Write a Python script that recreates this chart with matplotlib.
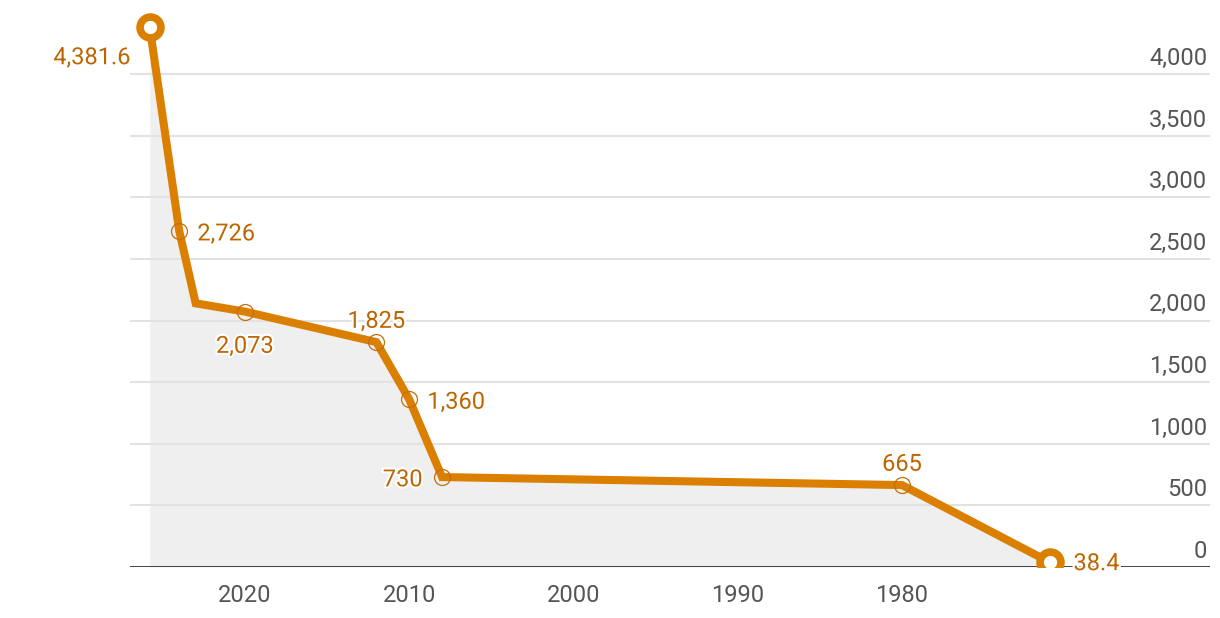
import matplotlib
matplotlib.use("Agg")
from matplotlib import pyplot as plt
import matplotlib.patheffects as pe
import matplotlib.transforms as mtransforms

plt.rcParams['font.family'] = ['Roboto', 'DejaVu Sans']

years = [2025.8, 2024, 2023, 2020, 2012, 2010, 2008, 1980, 1971]
values = [4381.6, 2726, 2140, 2073, 1825, 1360, 730, 665, 38.4]
labels = ['4,381.6', '2,726', None, '2,073', '1,825', '1,360', '730', '665', '38.4']
# where each label sits relative to its point
label_pos = ['below-left', 'right', None, 'below', 'above', 'right', 'left', 'above', 'end-right']

xticks = [2020, 2010, 2000, 1990, 1980]
yticks = [0, 500, 1000, 1500, 2000, 2500, 3000, 3500, 4000]

line_color = '#db7f00'
label_color = '#bd6500'
tick_color = '#555555'

fig = plt.figure(figsize=(12.2, 6.18), dpi=100)
W, H = 1220, 618
ax = fig.add_axes([130 / W, 1 - 567 / H, 1080 / W, 557 / H])
ax.set_xlim(2027.0, 1961.25)
ax.set_ylim(0, 4521)
for s in ax.spines.values():
    s.set_visible(False)

# grid lines
for t in yticks[1:]:
    ax.axhline(t, color='#e2e2e2', lw=1.5, zorder=1)
ax.axhline(0, color='#333333', lw=2, zorder=4)

ax.fill_between(years, values, 0, color='#efefef', lw=0, zorder=0)
ax.plot(years, values, color=line_color, lw=5.8, solid_joinstyle='miter', zorder=3)

mid = [i for i in range(len(years)) if labels[i] and i not in (0, len(years) - 1)]
ax.plot([years[i] for i in mid], [values[i] for i in mid], 'o', ms=11.5,
        mfc='none', mec='#c26f0c', mew=0.9, zorder=5)
ends = [0, len(years) - 1]
ax.plot([years[i] for i in ends], [values[i] for i in ends], 'o', ms=15,
        mfc='white', mec=line_color, mew=5.5, zorder=6)

halo = [pe.withStroke(linewidth=3, foreground='white')]
offsets = {
    'right': (13, -2, 'left', 'center'),
    'end-right': (17, -1, 'left', 'center'),
    'left': (-14, -2, 'right', 'center'),
    'above': (0, 15, 'center', 'center'),
    'below': (0, -25, 'center', 'center'),
    'below-left': (-14, -22, 'right', 'center'),
}
for x, y, lab, pos in zip(years, values, labels, label_pos):
    if lab is None:
        continue
    dx, dy, ha, va = offsets[pos]
    ax.annotate(lab, (x, y), xytext=(dx, dy), textcoords='offset points',
                ha=ha, va=va, fontsize=17, color=label_color,
                path_effects=halo, zorder=7)

# y tick labels on the right, sitting above their grid line
trans = mtransforms.blended_transform_factory(ax.transAxes, ax.transData)
for t in yticks:
    ax.annotate(f'{t:,}', (1.0, t), xycoords=trans, xytext=(-2, 3),
                textcoords='offset points', ha='right', va='bottom',
                fontsize=17, color=tick_color)

ax.set_yticks([])
ax.set_xticks(xticks)
ax.set_xticklabels([str(x) for x in xticks], fontsize=17, color=tick_color)
ax.tick_params(axis='x', length=0, pad=12.5)

fig.savefig('out.png', dpi=100)
